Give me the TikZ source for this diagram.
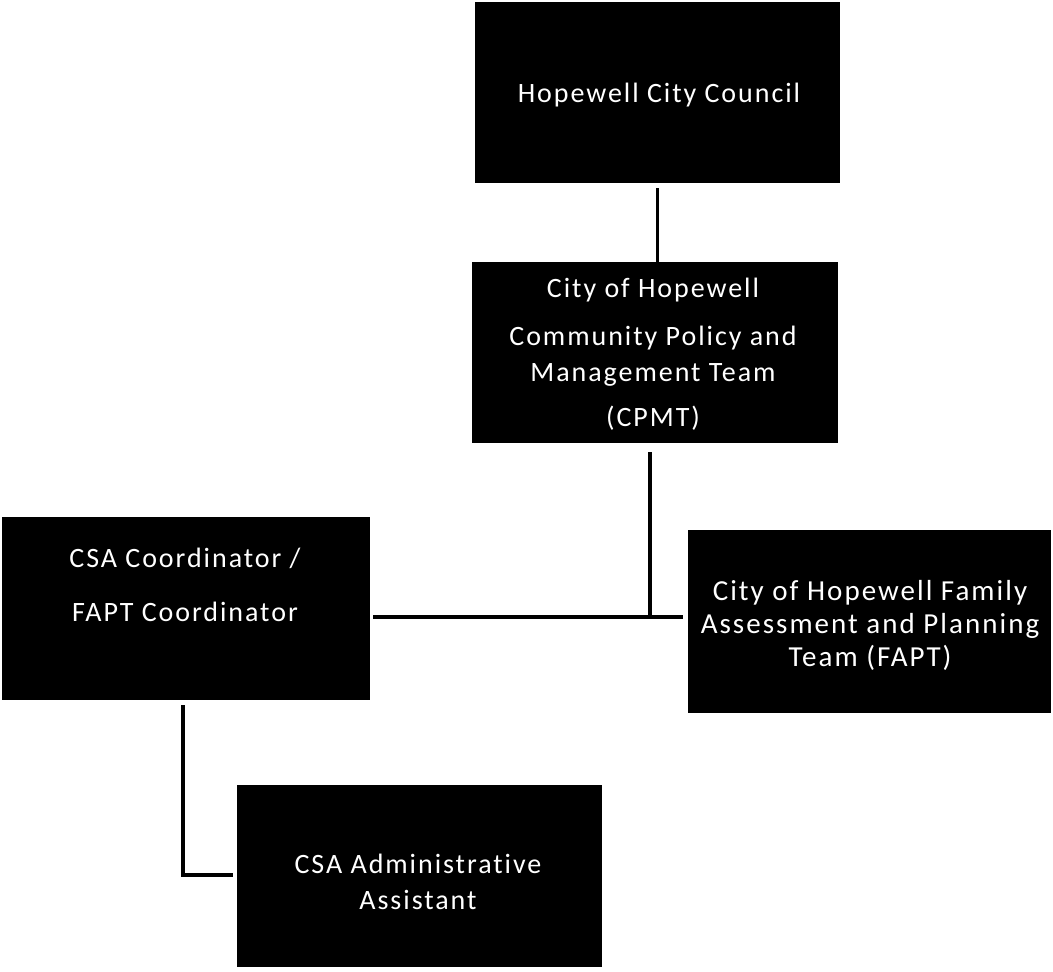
\documentclass[tikz,border=0pt]{standalone}
\usepackage{fontspec}
\setmainfont{Carlito}[LetterSpace=7,Ligatures={NoCommon,NoDiscretionary,NoContextual}]
\usetikzlibrary{calc}
\begin{document}
\begin{tikzpicture}[x=1pt,y=-1pt,
  box/.style={rectangle, fill=black, draw=none, inner sep=0pt},
  txt/.style={text=white, align=center, inner sep=0pt, font=\fontsize{28}{36}\selectfont},
  conn/.style={line width=3.8pt, draw=black}]
\useasboundingbox[fill=white] (0,0) rectangle (1053,972);
% boxes
\node[box, minimum width=365pt, minimum height=181pt] (b1) at (657.5,92.5) {};
\node[box, minimum width=366pt, minimum height=181pt] (b2) at (655,352.5) {};
\node[box, minimum width=368pt, minimum height=183pt] (b3) at (186,608.5) {};
\node[box, minimum width=363pt, minimum height=183pt] (b4) at (869.5,621.5) {};
\node[box, minimum width=365pt, minimum height=182pt] (b5) at (419.5,876) {};
% texts
\node[txt] (b1t) at (659,95) {Hopewell City Council};
\node[txt] (b2t) at (653,354.5) {City of Hopewell\\[12pt]Community Policy and\\Management Team\\[9pt](CPMT)};
\node[txt] (b3t) at (185,585) {CSA Coordinator /\\[18pt]FAPT Coordinator};
\node[txt, font=\fontsize{29}{36}\selectfont] (b4t) at (870,625) {City of Hopewell Family\\[-3pt]Assessment and Planning\\[-3pt]Team (FAPT)};
\node[txt] (b5t) at (418,881.5) {CSA Administrative\\Assistant};
% connectors
\coordinate (j) at (650,617);
\coordinate (k) at (183,875);
\draw[conn] ($(b1.south)+(0,5)$) -- (b1.south |- b2.north);
\draw[conn] ($(b2.south)+(-5,9)$) -- (j);
\draw[conn] ($(b3.east |- j)+(3,0)$) -- ($(b4.west |- j)+(-5,0)$);
\draw[conn] ($(b3.south)+(-3,5)$) -- (k) -- ($(b5.west |- k)+(-4,0)$);
\end{tikzpicture}
\end{document}
